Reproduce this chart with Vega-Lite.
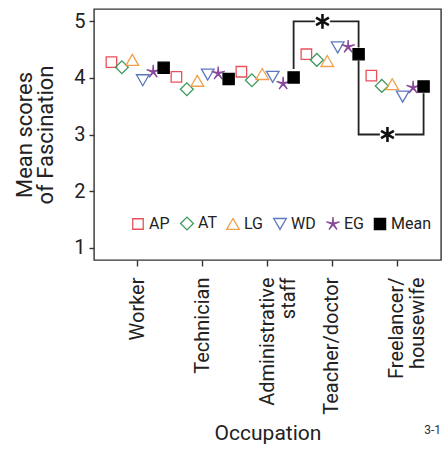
{
  "$schema": "https://vega.github.io/schema/vega-lite/v6.json",
  "width": 347,
  "height": 251,
  "padding": {"left": 13, "top": 8, "right": 2, "bottom": 5},
  "background": "white",
  "title": {"text": "3-1", "orient": "bottom", "anchor": "end", "fontSize": 12, "fontWeight": "normal", "color": "#333", "font": "Roboto", "offset": -18},
  "config": {
    "view": {"stroke": "#333", "strokeWidth": 1.4},
    "font": "Roboto",
    "axis": {"labelFont": "Roboto", "titleFont": "Roboto", "labelColor": "#222", "titleColor": "#222", "domainColor": "#333", "tickColor": "#333", "grid": false, "titleFontWeight": "normal", "domainWidth": 1.4, "tickWidth": 1.4},
    "legend": {"labelFont": "Roboto"}
  },
  "datasets": {
    "scores": [
      {"occupation": "Worker", "series": "AP", "value": 4.28},
      {"occupation": "Worker", "series": "AT", "value": 4.19},
      {"occupation": "Worker", "series": "LG", "value": 4.32},
      {"occupation": "Worker", "series": "WD", "value": 3.96},
      {"occupation": "Worker", "series": "EG", "value": 4.11},
      {"occupation": "Worker", "series": "Mean", "value": 4.18},
      {"occupation": "Technician", "series": "AP", "value": 4.02},
      {"occupation": "Technician", "series": "AT", "value": 3.80},
      {"occupation": "Technician", "series": "LG", "value": 3.95},
      {"occupation": "Technician", "series": "WD", "value": 4.06},
      {"occupation": "Technician", "series": "EG", "value": 4.08},
      {"occupation": "Technician", "series": "Mean", "value": 3.98},
      {"occupation": "Administrative staff", "series": "AP", "value": 4.11},
      {"occupation": "Administrative staff", "series": "AT", "value": 3.96},
      {"occupation": "Administrative staff", "series": "LG", "value": 4.07},
      {"occupation": "Administrative staff", "series": "WD", "value": 4.02},
      {"occupation": "Administrative staff", "series": "EG", "value": 3.90},
      {"occupation": "Administrative staff", "series": "Mean", "value": 4.01},
      {"occupation": "Teacher/doctor", "series": "AP", "value": 4.42},
      {"occupation": "Teacher/doctor", "series": "AT", "value": 4.32},
      {"occupation": "Teacher/doctor", "series": "LG", "value": 4.30},
      {"occupation": "Teacher/doctor", "series": "WD", "value": 4.54},
      {"occupation": "Teacher/doctor", "series": "EG", "value": 4.55},
      {"occupation": "Teacher/doctor", "series": "Mean", "value": 4.42},
      {"occupation": "Freelancer/housewife", "series": "AP", "value": 4.04},
      {"occupation": "Freelancer/housewife", "series": "AT", "value": 3.86},
      {"occupation": "Freelancer/housewife", "series": "LG", "value": 3.89},
      {"occupation": "Freelancer/housewife", "series": "WD", "value": 3.67},
      {"occupation": "Freelancer/housewife", "series": "EG", "value": 3.83},
      {"occupation": "Freelancer/housewife", "series": "Mean", "value": 3.85}
    ],
    "brackets": [
      {"bracket": "A", "step": 1, "occupation": "Administrative staff", "value": 4.16},
      {"bracket": "A", "step": 2, "occupation": "Administrative staff", "value": 5.0},
      {"bracket": "A", "step": 3, "occupation": "Teacher/doctor", "value": 5.0},
      {"bracket": "A", "step": 4, "occupation": "Teacher/doctor", "value": 4.54},
      {"bracket": "B", "step": 1, "occupation": "Teacher/doctor", "value": 4.31},
      {"bracket": "B", "step": 2, "occupation": "Teacher/doctor", "value": 3.0},
      {"bracket": "B", "step": 3, "occupation": "Freelancer/housewife", "value": 3.0},
      {"bracket": "B", "step": 4, "occupation": "Freelancer/housewife", "value": 3.73}
    ],
    "stars": [
      {"occupation": "Teacher/doctor", "value": 5.0},
      {"occupation": "Freelancer/housewife", "value": 3.0}
    ]
  },
  "encoding": {
    "x": {
      "field": "occupation", "type": "nominal",
      "scale": {"domain": ["Worker", "Technician", "Administrative staff", "Teacher/doctor", "Freelancer/housewife"], "paddingInner": 0, "paddingOuter": 0.17},
      "axis": {"title": "Occupation", "titleFontSize": 21, "titlePadding": 8, "labelAngle": -90, "labelAlign": "right", "labelBaseline": "middle", "labelFontSize": 20, "labelLineHeight": 21, "tickSize": 6, "labelPadding": 11, "domain": false,
        "labelExpr": "datum.label == 'Administrative staff' ? ['Administrative', 'staff'] : datum.label == 'Freelancer/housewife' ? ['Freelancer/', 'housewife'] : datum.label"}
    },
    "y": {
      "field": "value", "type": "quantitative",
      "scale": {"domain": [0.78, 5.22], "nice": false, "zero": false},
      "axis": {"title": ["Mean scores", "of Fascination"], "titleFontSize": 22, "titleLineHeight": 21, "titlePadding": 16, "values": [1, 2, 3, 4, 5], "labelFontSize": 20, "tickSize": 5, "labelPadding": 4, "domain": false}
    }
  },
  "layer": [
    {
      "data": {"name": "brackets"},
      "mark": {"type": "line", "color": "#222", "strokeWidth": 1.8, "interpolate": "linear"},
      "encoding": {
        "xOffset": {"datum": "Mean", "type": "nominal"},
        "detail": {"field": "bracket"},
        "order": {"field": "step", "type": "quantitative"}
      }
    },
    {
      "data": {"name": "stars"},
      "mark": {"type": "point", "shape": "square", "filled": true, "fill": "white", "strokeWidth": 0, "size": 230, "opacity": 1},
      "encoding": {
        "x": {"field": "occupation", "type": "nominal", "bandPosition": 0.346}
      }
    },
    {
      "data": {"name": "stars"},
      "mark": {"type": "point", "shape": "M0,-1L0,1M-0.866,-0.5L0.866,0.5M-0.866,0.5L0.866,-0.5", "filled": false, "stroke": "#111", "strokeWidth": 2.6, "size": 220, "opacity": 1},
      "encoding": {
        "x": {"field": "occupation", "type": "nominal", "bandPosition": 0.346}
      }
    },
    {
      "data": {"name": "scores"},
      "mark": {"type": "point", "strokeWidth": 1.3, "opacity": 1},
      "encoding": {
        "xOffset": {"field": "series", "type": "nominal", "scale": {"domain": ["AP", "AT", "LG", "WD", "EG", "Mean"], "paddingInner": 0, "paddingOuter": 0.61}},
        "shape": {"field": "series", "type": "nominal", "scale": {"domain": ["AP", "AT", "LG", "WD", "EG", "Mean"], "range": ["square", "diamond", "triangle-up", "triangle-down", "M0,-1L0.07,-0.1L0.951,-0.309L0.11,0.04L0.588,0.809L0,0.12L-0.588,0.809L-0.11,0.04L-0.951,-0.309L-0.07,-0.1Z", "square"]},
          "legend": {"title": null, "orient": "none", "legendX": 36, "legendY": 206, "direction": "horizontal", "columns": 6, "labelFontSize": 16, "labelColor": "#222", "symbolStrokeWidth": 1.3, "labelOffset": 3, "columnPadding": 7, "padding": 0}},
        "size": {"field": "series", "type": "nominal", "scale": {"type": "ordinal", "domain": ["AP", "AT", "LG", "WD", "EG", "Mean"], "range": [110, 165, 160, 160, 190, 125]}},
        "stroke": {"field": "series", "type": "nominal", "scale": {"domain": ["AP", "AT", "LG", "WD", "EG", "Mean"], "range": ["#e8505b", "#3a9a5b", "#f0a04b", "#5a78c0", "#8a4a9a", "#000000"]}},
        "fill": {"field": "series", "type": "nominal", "scale": {"domain": ["AP", "AT", "LG", "WD", "EG", "Mean"], "range": ["transparent", "transparent", "transparent", "transparent", "transparent", "#000000"]}}
      }
    }
  ]
}
